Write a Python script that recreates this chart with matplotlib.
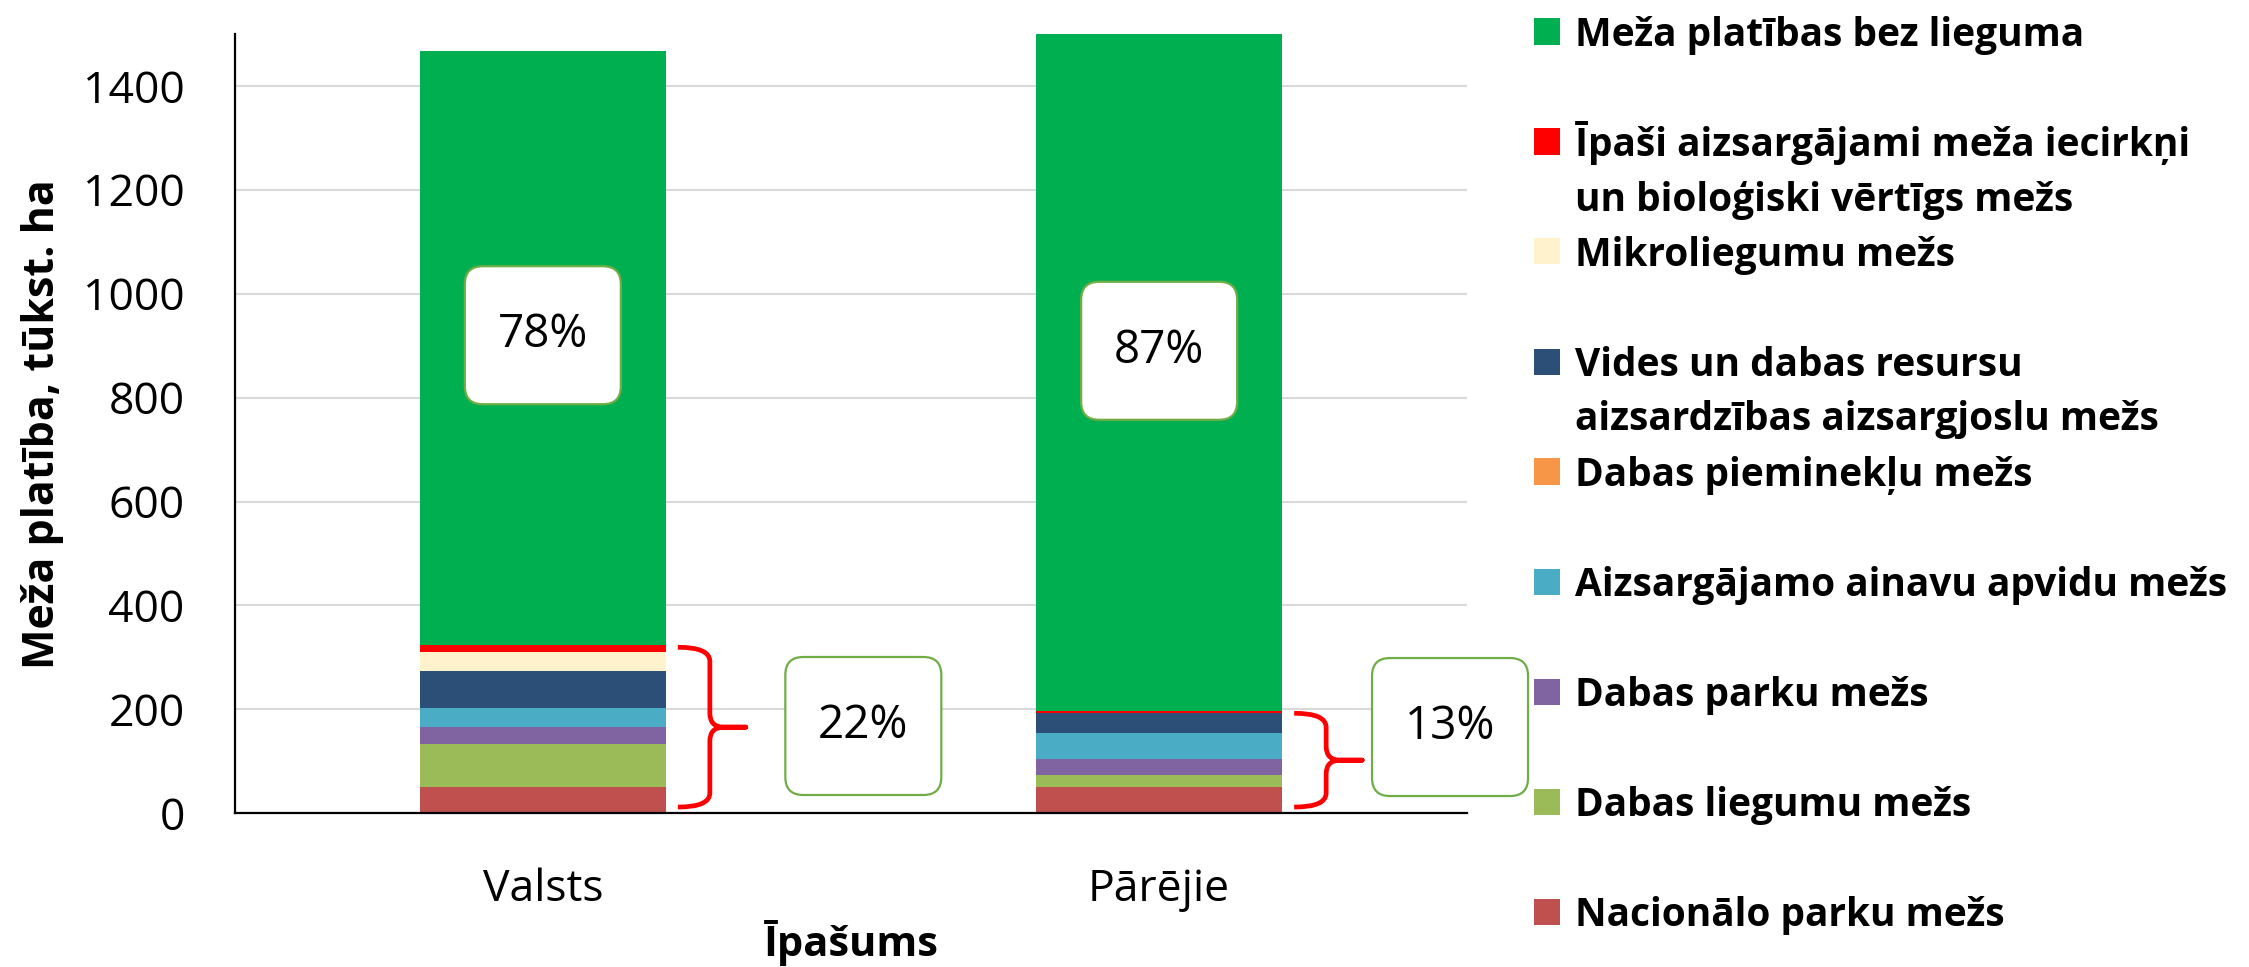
import matplotlib
matplotlib.use("Agg")
import matplotlib.pyplot as plt
import numpy as np
from matplotlib.patches import FancyBboxPatch, PathPatch, Rectangle
from matplotlib.path import Path

plt.rcParams["font.family"] = ["Open Sans", "DejaVu Sans"]

# --- data (tūkst. ha), stacked bottom -> top ---
categories = ["Valsts", "Pārējie"]
nacionalo_parku = [50, 51]
dabas_liegumu = [84, 22]
dabas_parku = [32, 32]
ainavu_apvidu = [36, 49]
dabas_piemineklu = [1.5, 0.5]
vides_aizsargjoslu = [70, 38]
mikroliegumu = [37, 1]
ipasi_aizsargajami = [13, 3]
bez_lieguma = [1144, 1304]

yticks = [0, 200, 400, 600, 800, 1000, 1200, 1400]

series = [
    ("Nacionālo parku mežs", nacionalo_parku, "#C0504D"),
    ("Dabas liegumu mežs", dabas_liegumu, "#9BBB59"),
    ("Dabas parku mežs", dabas_parku, "#8064A2"),
    ("Aizsargājamo ainavu apvidu mežs", ainavu_apvidu, "#4BACC6"),
    ("Dabas pieminekļu mežs", dabas_piemineklu, "#F79646"),
    ("Vides un dabas resursu\naizsardzības aizsargjoslu mežs", vides_aizsargjoslu, "#2C4F77"),
    ("Mikroliegumu mežs", mikroliegumu, "#FFF2CC"),
    ("Īpaši aizsargājami meža iecirkņi\nun bioloģiski vērtīgs mežs", ipasi_aizsargajami, "#FF0000"),
    ("Meža platības bez lieguma", bez_lieguma, "#00B050"),
]

W, H = 2249, 967
fig = plt.figure(figsize=(W / 100, H / 100), dpi=100)
ax = fig.add_axes([234.7 / W, 1 - 813.3 / H, (1467.3 - 234.7) / W, (813.3 - 33.8) / H])

x = np.arange(len(categories))
bottom = np.zeros(len(categories))
for lab, vals, col in series:
    ax.bar(x, vals, 0.4, bottom=bottom, color=col, lw=0, zorder=2)
    bottom += np.array(vals, dtype=float)

total = bottom
protected = total - np.array(bez_lieguma)

ax.set_xlim(-0.5, 1.5)
ax.set_ylim(0, 1500)
ax.set_yticks(yticks)
ax.set_xticks(x)
ax.set_xticklabels(categories)
ax.yaxis.grid(True, color="#D9D9D9", lw=1.5, zorder=0)
ax.set_axisbelow(True)
for s in ("top", "right"):
    ax.spines[s].set_visible(False)
ax.spines["left"].set_linewidth(1.6)
ax.spines["bottom"].set_linewidth(1.6)
ax.tick_params(axis="y", length=0, labelsize=32, pad=36)
ax.tick_params(axis="x", length=0, labelsize=32, pad=39)

# px per data unit (axes position is fixed, so this is known now)
p0 = ax.transData.transform((0, 0))
px_x = ax.transData.transform((1, 0))[0] - p0[0]
px_y = ax.transData.transform((0, 1))[1] - p0[1]


def callout(cx, cy, text):
    w, h, r = 156 / px_x, 138 / px_y, 18 / px_x
    box = FancyBboxPatch((cx - w / 2, cy - h / 2), w, h,
                         boxstyle=f"round,pad=0,rounding_size={r}",
                         mutation_aspect=px_x / px_y, fc="white", ec="#70AD47",
                         lw=1.6, zorder=5, clip_on=False)
    ax.add_patch(box)
    ax.text(cx, cy, text, ha="center", va="center", fontsize=33, zorder=6,
            clip_on=False)


def brace(xc, y0, y1):
    xt = xc + 135 / px_x
    xs = xt + 32 / px_x
    xm = xs + 36 / px_x
    rx, ry = 14 / px_x, 14 / px_y
    ym = (y0 + y1) / 2
    verts = [(xt, y1), (xs, y1), (xs, y1 - ry),
             (xs, ym + ry), (xs, ym), (xs + rx, ym),
             (xm, ym), (xs + rx, ym),
             (xs, ym), (xs, ym - ry),
             (xs, y0 + ry), (xs, y0), (xt, y0)]
    codes = [Path.MOVETO, Path.CURVE3, Path.CURVE3,
             Path.LINETO, Path.CURVE3, Path.CURVE3,
             Path.LINETO, Path.LINETO,
             Path.CURVE3, Path.CURVE3,
             Path.LINETO, Path.CURVE3, Path.CURVE3]
    ax.add_patch(PathPatch(Path(verts, codes), fc="none", ec="#FF0000", lw=3.4,
                           capstyle="butt", joinstyle="round", zorder=4,
                           clip_on=False))


share_free = np.array(bez_lieguma) / total
share_prot = protected / total
main_y = [920, 890]
side_dx = [0.52, 0.472]
side_y = [168, 166]
for i in range(len(categories)):
    callout(x[i], main_y[i], f"{share_free[i] * 100:.0f}%")
    brace(x[i], 12, protected[i] - 4)
    callout(x[i] + side_dx[i], side_y[i], f"{share_prot[i] * 100:.0f}%")

# axis titles
fig.text(43 / W, 1 - 424 / H, "Meža platība, tūkst. ha", rotation=90,
         ha="center", va="center", fontsize=31, fontweight="bold")
fig.text(851 / W, 1 - 956 / H, "Īpašums", ha="center", va="baseline",
         fontsize=30, fontweight="bold")

# legend, drawn by hand (top -> bottom)
for i, (lab, vals, col) in enumerate(series[::-1]):
    yc = 31.5 + i * 110
    fig.patches.append(Rectangle((1534 / W, 1 - (yc + 13) / H), 26 / W, 26 / H,
                                 transform=fig.transFigure, fc=col, ec="none"))
    for j, line in enumerate(lab.split("\n")):
        fig.text(1575 / W, 1 - (yc + 14.5 + j * 54.5) / H, line, ha="left",
                 va="baseline", fontsize=28, fontweight="bold")

fig.savefig("out.png", dpi=100)
